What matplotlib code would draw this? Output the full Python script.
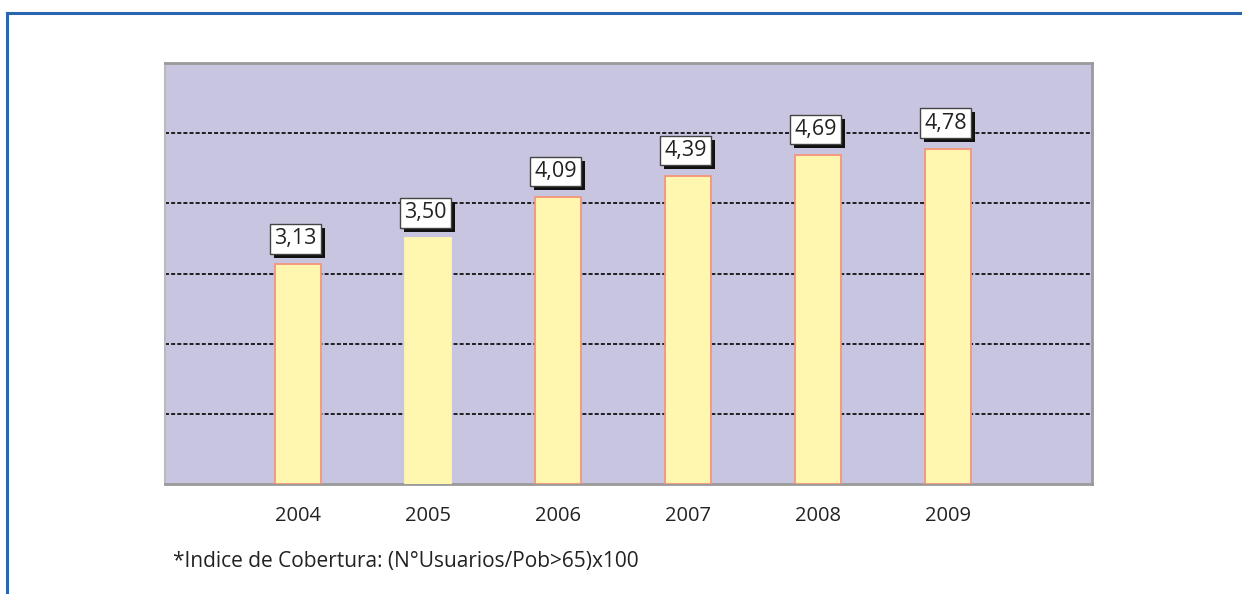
import matplotlib
matplotlib.use('Agg')
import matplotlib.pyplot as plt
import matplotlib.patheffects as pe
from matplotlib.lines import Line2D

# datos del grafico
years = ['2004', '2005', '2006', '2007', '2008', '2009']
coverage = [3.13, 3.50, 4.09, 4.39, 4.69, 4.78]
labels = ['3,13', '3,50', '4,09', '4,39', '4,69', '4,78']
note = '*Indice de Cobertura: (N°Usuarios/Pob>65)x100'

plt.rcParams['font.family'] = ['Open Sans', 'DejaVu Sans']

fig = plt.figure(figsize=(12.42, 5.94), dpi=100)
ax = fig.add_axes([165 / 1242, 110 / 594, 927 / 1242, 421 / 594])
ax.set_facecolor('#C8C5E1')

x = range(len(years))
edges = ['#F5957A', '#FFF6B0', '#F5957A', '#F5957A', '#F5957A', '#F5957A']
ax.bar(x, coverage, width=0.355, color='#FFF6B0', edgecolor=edges,
       linewidth=1.3, zorder=3)

# lineas de cuadricula punteadas
ax.set_ylim(0, 6)
ax.set_xlim(-1.02, 6.11)
ax.set_yticks([1, 2, 3, 4, 5])
ax.yaxis.grid(True, color='#111111', linestyle=(0, (2.2, 1.2)), linewidth=1.3, zorder=1)
ax.tick_params(axis='y', length=0, labelleft=False)
ax.set_xticks(list(x))
ax.set_xticklabels(years, fontsize=14.5, color='#222222')
ax.tick_params(axis='x', length=0, pad=16)

for s in ['top', 'bottom', 'right']:
    ax.spines[s].set_color('#9A9A9A')
    ax.spines[s].set_linewidth(2)
ax.spines['left'].set_color('#BBBBBB')
ax.spines['left'].set_linewidth(1.5)

# etiquetas de valor con sombra
for xi, v, lab in zip(x, coverage, labels):
    t = ax.annotate(lab, (xi, v), xytext=(-2, 15), textcoords='offset pixels',
                    ha='center', va='bottom', fontsize=15.5, color='#222222', zorder=5,
                    bbox=dict(boxstyle='square,pad=0.2', fc='white', ec='#444444', lw=1))
    t.get_bbox_patch().set_path_effects([
        pe.SimplePatchShadow(offset=(3, -3), shadow_rgbFace='#111111', alpha=1),
        pe.Normal()])

fig.text(173 / 1242, 1 - 567 / 594, note, fontsize=15, color='#222222',
         ha='left', va='baseline')

# marco exterior azul
fig.add_artist(Line2D([7 / 1242, 7 / 1242], [0, 1 - 12.5 / 594], color='#2A66AE', lw=2.2))
fig.add_artist(Line2D([7 / 1242, 1], [1 - 12.5 / 594, 1 - 12.5 / 594], color='#2A66AE', lw=2.2))

fig.savefig('out.png', dpi=100)
